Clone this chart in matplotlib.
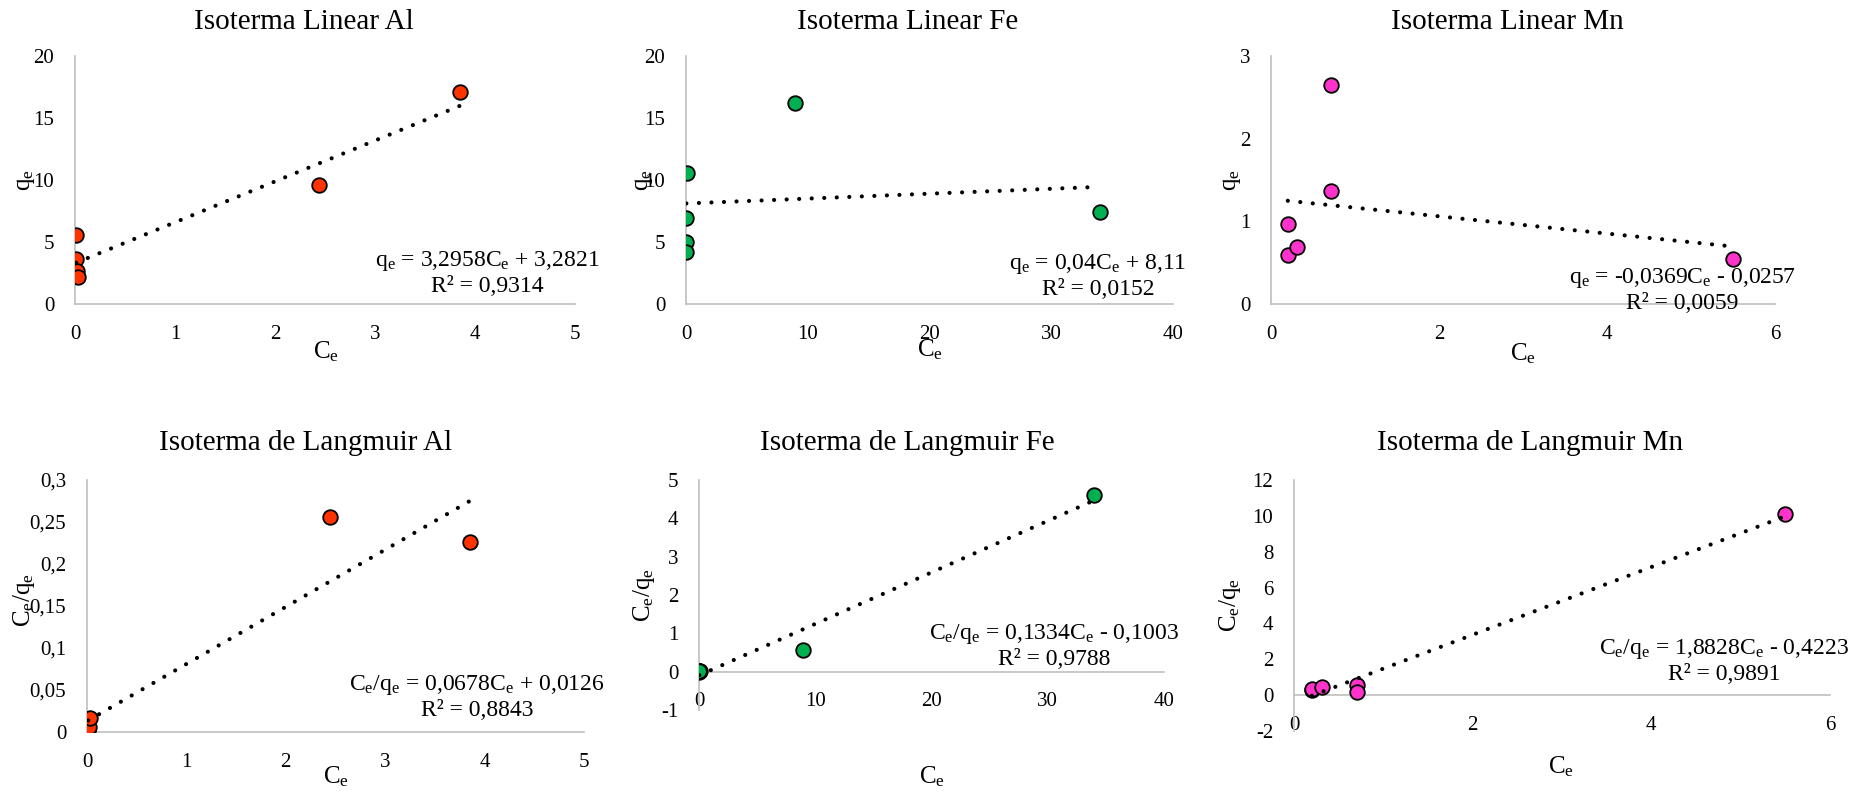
import numpy as np
import matplotlib.pyplot as plt
from matplotlib.ticker import FuncFormatter

plt.rcParams['font.family'] = ['Liberation Serif', 'DejaVu Serif']
plt.rcParams['mathtext.fontset'] = 'custom'
plt.rcParams['mathtext.rm'] = 'Liberation Serif'
plt.rcParams['mathtext.default'] = 'regular'
plt.rcParams['axes.unicode_minus'] = False

# equilibrium concentration (Ce) and uptake (qe) per metal
al_ce = [0.012, 0.012, 0.02, 0.03, 2.44, 3.85]
al_qe = [5.56, 3.62, 2.66, 2.20, 9.58, 17.1]
fe_ce = [0.1, 0.03, 0.03, 0.03, 8.97, 33.99]
fe_qe = [10.6, 6.93, 5.02, 4.19, 16.19, 7.41]
mn_ce = [0.2, 0.2, 0.31, 0.71, 0.71, 5.5]
mn_qe = [0.97, 0.59, 0.69, 1.37, 2.65, 0.55]

# Langmuir linearisation, Ce/qe
al_ratio = [0.002, 0.004, 0.006, 0.0165, 0.2555, 0.2265]
fe_ratio = [0.01, 0.004, 0.006, 0.007, 0.573, 4.61]
mn_ratio = [0.28, 0.37, 0.47, 0.56, 0.19, 10.08]

al_color = '#FF3300'
fe_color = '#00B050'
mn_color = '#FF33CC'

W, H = 1869, 795
fig = plt.figure(figsize=(W / 100, H / 100), dpi=100)


def px(x, y):
    return x / W, 1 - y / H


def comma(v, pos):
    return ('%g' % v).replace('.', ',')


def panel(box, ce, q, color, xlim, xstep, ylim, ystep, title, title_xy,
          xlab, xlab_xy, ylab, ylab_xy, eq, eq_xy):
    l, t, r, b = box
    ax = fig.add_axes([l / W, 1 - b / H, (r - l) / W, (b - t) / H])
    ax.scatter(ce, q, s=110, c=color, edgecolors='black', linewidths=1.3, zorder=3)
    # linear trendline over the data range
    k, c0 = np.polyfit(ce, q, 1)
    xs = np.array([min(ce), max(ce)])
    ax.plot(xs, k * xs + c0, color='black', lw=3,
            linestyle=(0, (0.01, 3.0)), dash_capstyle='round', zorder=4)
    ax.set_xlim(*xlim)
    ax.set_ylim(*ylim)
    ax.set_xticks(np.arange(xlim[0], xlim[1] + xstep / 2, xstep))
    ax.set_yticks(np.arange(ylim[0], ylim[1] + ystep / 2, ystep))
    ax.xaxis.set_major_formatter(FuncFormatter(comma))
    ax.yaxis.set_major_formatter(FuncFormatter(comma))
    ax.tick_params(length=0, pad=15, labelsize=15)
    ax.spines['top'].set_visible(False)
    ax.spines['right'].set_visible(False)
    ax.spines['bottom'].set_position(('data', 0))
    for s in ('left', 'bottom'):
        ax.spines[s].set_color('#BFBFBF')
        ax.spines[s].set_linewidth(1.2)
    ax.patch.set_alpha(0)
    fig.text(*px(*title_xy), title, fontsize=21, ha='center', va='center')
    fig.text(*px(*xlab_xy), xlab, fontsize=18, ha='center', va='center')
    fig.text(*px(*ylab_xy), ylab, fontsize=18, ha='center', va='center',
             rotation=90)
    fig.text(*px(*eq_xy), eq, fontsize=17, ha='center', va='center',
             multialignment='center', linespacing=1.15)
    return ax


ce_lab = 'C$_e$'
q_lab = 'q$_e$'
ratio_lab = 'C$_e$/q$_e$'

panel((75, 56, 575, 304), al_ce, al_qe, al_color, (0, 5), 1, (0, 20), 5,
      'Isoterma Linear Al', (304, 22), ce_lab, (326, 352), q_lab, (26, 180),
      'q$_e$ = 3,2958C$_e$ + 3,2821\nR² = 0,9314', (487, 273))
panel((686, 56, 1173, 304), fe_ce, fe_qe, fe_color, (0, 40), 10, (0, 20), 5,
      'Isoterma Linear Fe', (908, 22), ce_lab, (930, 350), q_lab, (644, 180),
      'q$_e$ = 0,04C$_e$ + 8,11\nR² = 0,0152', (1098, 276))
panel((1271, 56, 1775, 304), mn_ce, mn_qe, mn_color, (0, 6), 2, (0, 3), 1,
      'Isoterma Linear Mn', (1507, 22), ce_lab, (1523, 354), q_lab, (1232, 180),
      'q$_e$ = -0,0369C$_e$ - 0,0257\nR² = 0,0059', (1682, 290))

panel((87, 480, 584, 732), al_ce, al_ratio, al_color, (0, 5), 1, (0, 0.3), 0.05,
      'Isoterma de Langmuir Al', (306, 443), ce_lab, (336, 777), ratio_lab, (24, 600),
      'C$_e$/q$_e$ = 0,0678C$_e$ + 0,0126\nR² = 0,8843', (477, 697))
panel((699, 480, 1164, 710), fe_ce, fe_ratio, fe_color, (0, 40), 10, (-1, 5), 1,
      'Isoterma de Langmuir Fe', (907, 443), ce_lab, (932, 777), ratio_lab, (644, 595),
      'C$_e$/q$_e$ = 0,1334C$_e$ - 0,1003\nR² = 0,9788', (1054, 646))
panel((1294, 480, 1830, 731), mn_ce, mn_ratio, mn_color, (0, 6), 2, (-2, 12), 2,
      'Isoterma de Langmuir Mn', (1530, 443), ce_lab, (1561, 767), ratio_lab, (1230, 605),
      'C$_e$/q$_e$ = 1,8828C$_e$ - 0,4223\nR² = 0,9891', (1724, 661))

fig.savefig('out.png', dpi=100, facecolor='white')
